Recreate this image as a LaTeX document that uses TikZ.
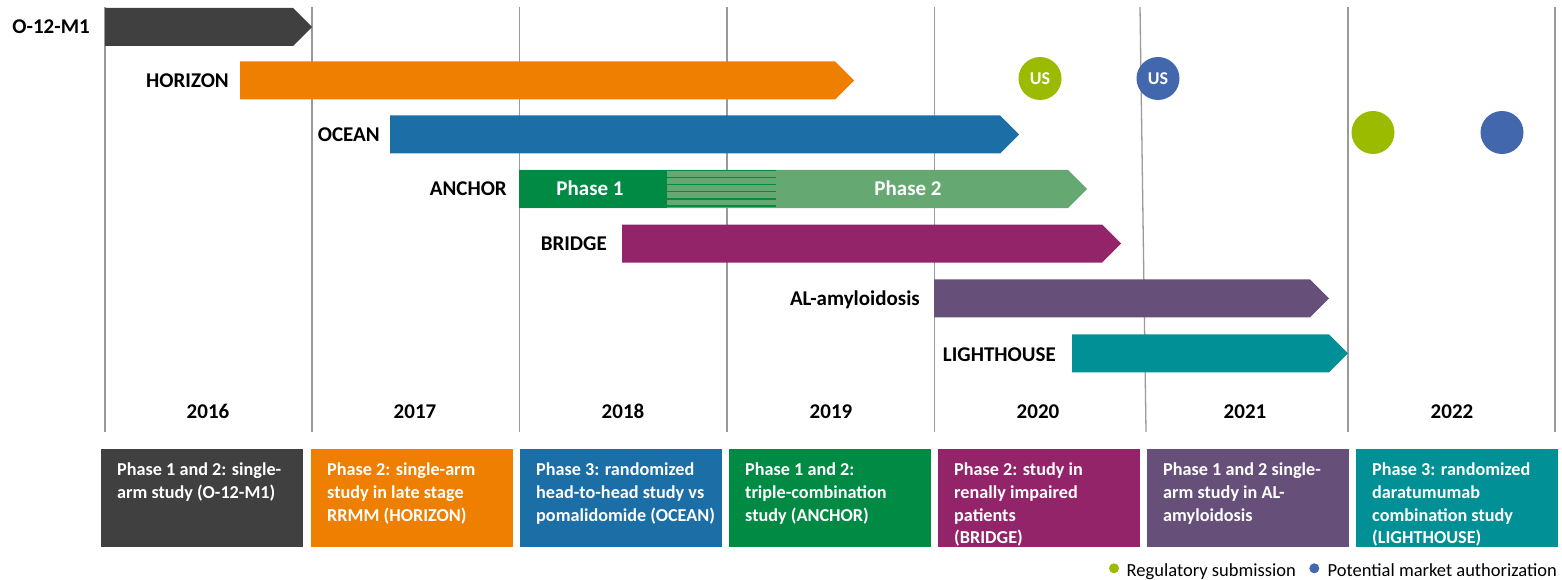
\documentclass[tikz,border=0pt]{standalone}
\usepackage{fontspec}
\setmainfont{Carlito}
\definecolor{cgray}{HTML}{404040}
\definecolor{corange}{HTML}{EE7F00}
\definecolor{cblue}{HTML}{1B6EA6}
\definecolor{cdgreen}{HTML}{008A44}
\definecolor{clgreen}{HTML}{66A872}
\definecolor{cmagenta}{HTML}{93246A}
\definecolor{cpurple}{HTML}{66507A}
\definecolor{cteal}{HTML}{009095}
\definecolor{cgreenpt}{HTML}{9BBB00}
\definecolor{cbluept}{HTML}{4267AC}
\definecolor{cgrid}{HTML}{9A9A9A}
\newcommand\ganttbar[4]{\fill[#1] (#2,#4-19) -- (#3,#4-19) -- (#3+19,#4) -- (#3,#4+19) -- (#2,#4+19) -- cycle;}
\begin{document}
\begin{tikzpicture}[x=1pt,y=-1pt,
  gridline/.style={draw=cgrid,line width=1.3pt},
  rowlabel/.style={anchor=base east,inner sep=0,font=\fontsize{21}{25}\selectfont\bfseries},
  yearlabel/.style={anchor=base,inner sep=0,font=\fontsize{21}{25}\selectfont\bfseries},
  bartext/.style={anchor=base,inner sep=0,text=white,font=\fontsize{21}{25}\selectfont\bfseries},
  descbox/.style={anchor=north west,inner sep=0,minimum width=202pt,minimum height=98pt,draw=none},
  desctext/.style={anchor=north west,inner sep=0,text=white,align=left,font=\fontsize{18.2}{22.6}\selectfont\bfseries},
  milestone/.style={circle,inner sep=0,minimum size=43pt,text=white,font=\fontsize{18}{22}\selectfont\bfseries},
  legdot/.style={circle,inner sep=0,minimum size=10pt},
  legtext/.style={anchor=base west,inner sep=0,font=\fontsize{18.5}{22}\selectfont},
  stripe/.style={draw=cdgreen,line width=1.4pt}
]
\useasboundingbox (0,0) rectangle (1562,580);
% grid lines
\draw[gridline] (105,7) -- (105,432);
\draw[gridline] (312,7) -- (312,432);
\draw[gridline] (519.5,7) -- (519.5,432);
\draw[gridline] (727,7) -- (727,432);
\draw[gridline] (934.5,7) -- (934.5,432);
\draw[gridline] (1140,7) -- (1146,432);
\draw[gridline] (1348,7) -- (1348,432);
\draw[gridline] (1555,7) -- (1555,432);
% bars
\ganttbar{cgray}{105}{293}{27}
\ganttbar{corange}{240}{835}{80.5}
\ganttbar{cblue}{390}{1000}{134.5}
\ganttbar{clgreen}{519}{1068}{189}
\fill[cdgreen] (519,170) rectangle (667,208);
\foreach \s in {170.6,177.6,184.7,191.7,198.8,205.8}
  \draw[stripe] (667,\s) -- (776,\s);
\ganttbar{cmagenta}{622}{1102}{243.5}
\ganttbar{cpurple}{934}{1310}{298.3}
\ganttbar{cteal}{1072}{1329}{353.3}
% row labels
\node[rowlabel] (l1) at (90,34) {O-12-M1};
\node[rowlabel] (l2) at (229,87.5) {HORIZON};
\node[rowlabel] (l3) at (380,141.5) {OCEAN};
\node[rowlabel] (l4) at (507,196) {ANCHOR};
\node[rowlabel] (l5) at (607,250.5) {BRIDGE};
\node[rowlabel] (l6) at (920,305.3) {AL-amyloidosis};
\node[rowlabel] (l7) at (1056,361.5) {LIGHTHOUSE};
\node[bartext] (p1) at (590,196) {Phase 1};
\node[bartext] (p2) at (908,196) {Phase 2};
% milestones
\node[milestone,fill=cgreenpt] (m1) at (1040,78.5) {US};
\node[milestone,fill=cbluept] (m2) at (1158,78.5) {US};
\node[milestone,fill=cgreenpt] (m3) at (1373,132.5) {};
\node[milestone,fill=cbluept] (m4) at (1502,132.5) {};
% years
\node[yearlabel] (y1) at (208,418) {2016};
\node[yearlabel] (y2) at (415,418) {2017};
\node[yearlabel] (y3) at (623,418) {2018};
\node[yearlabel] (y4) at (831,418) {2019};
\node[yearlabel] (y5) at (1038,418) {2020};
\node[yearlabel] (y6) at (1245,418) {2021};
\node[yearlabel] (y7) at (1452,418) {2022};
% description boxes
\node[descbox,fill=cgray] (b1) at (101,449) {};
\node[descbox,fill=corange] (b2) at (311,449) {};
\node[descbox,fill=cblue] (b3) at (520,449) {};
\node[descbox,fill=cdgreen] (b4) at (729,449) {};
\node[descbox,fill=cmagenta] (b5) at (938,449) {};
\node[descbox,fill=cpurple] (b6) at (1147,449) {};
\node[descbox,fill=cteal] (b7) at (1356,449) {};
\node[desctext] (t1) at (117,463) {Phase 1 and 2: single-\\arm study (O-12-M1)};
\node[desctext] (t2) at (327,463) {Phase 2: single-arm\\study in late stage\\RRMM (HORIZON)};
\node[desctext] (t3) at (536,463) {Phase 3: randomized\\head-to-head study vs\\pomalidomide (OCEAN)};
\node[desctext] (t4) at (745,463) {Phase 1 and 2:\\triple-combination\\study (ANCHOR)};
\node[desctext] (t5) at (954,463) {Phase 2: study in\\renally impaired\\patients\\(BRIDGE)};
\node[desctext] (t6) at (1163,463) {Phase 1 and 2 single-\\arm study in AL-\\amyloidosis};
\node[desctext] (t7) at (1372,463) {Phase 3: randomized\\daratumumab\\combination study\\(LIGHTHOUSE)};
% legend
\node[legdot,fill=cgreenpt] (d1) at (1114,568.3) {};
\node[legtext] (g1) at (1126.5,576) {Regulatory submission};
\node[legdot,fill=cbluept] (d2) at (1314.3,568.3) {};
\node[legtext] (g2) at (1327.5,576) {Potential market authorization};
\end{tikzpicture}
\end{document}
